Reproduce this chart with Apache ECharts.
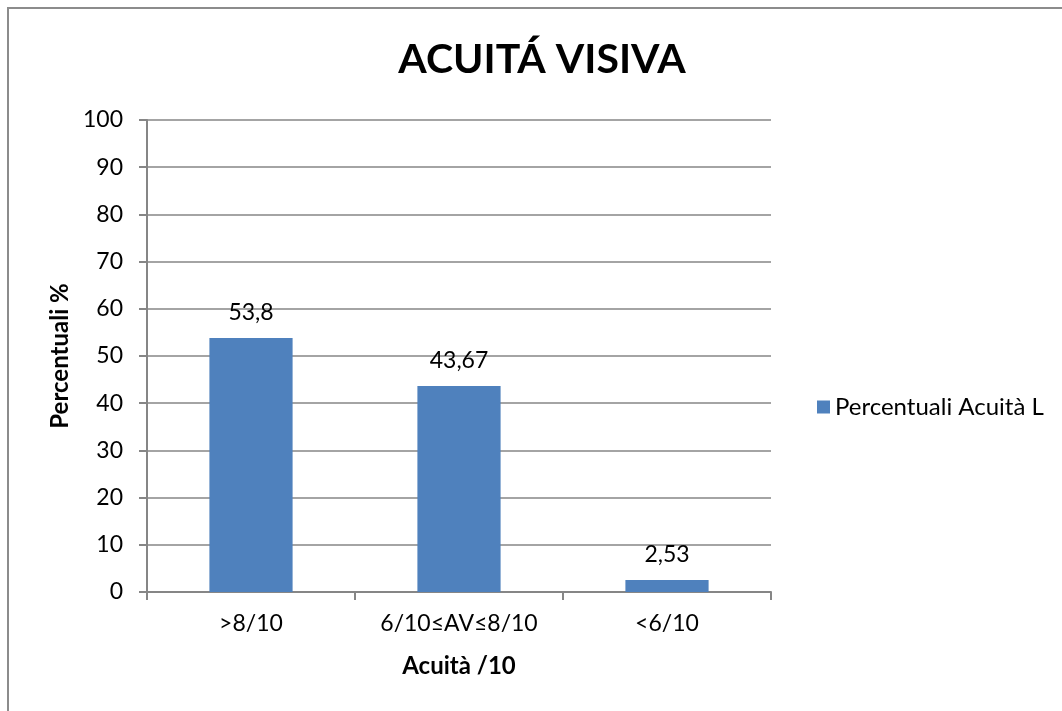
<!DOCTYPE html>
<html>
<head>
<meta charset="utf-8">
<script src="https://cdn.jsdelivr.net/npm/echarts@6/dist/echarts.min.js"></script>
<style>
  html, body { margin: 0; padding: 0; background: #fff; }
  #chart { width: 1062px; height: 711px; }
</style>
</head>
<body>
<div id="chart"></div>
<script>
// Visual acuity distribution (percent of subjects per class)
const categories = ['>8/10', '6/10≤AV≤8/10', '<6/10'];
const percentValues = [53.8, 43.67, 2.53];
const valueLabels = ['53,8', '43,67', '2,53'];
const seriesName = 'Percentuali Acuità L';

const FONT = 'Lato, "Open Sans", sans-serif';
const chart = echarts.init(document.getElementById('chart'));

chart.setOption({
  backgroundColor: '#ffffff',
  animation: false,
  textStyle: { fontFamily: FONT },
  graphic: [{
    type: 'rect',
    shape: { x: 8, y: 8, width: 1080, height: 720 },
    style: { fill: 'none', stroke: '#8c8c8c', lineWidth: 2 },
    silent: true
  }],
  title: {
    text: 'ACUITÁ VISIVA',
    left: 537,
    top: 34,
    textAlign: 'center',
    textStyle: { fontFamily: FONT, fontSize: 41, fontWeight: 'bold', color: '#000' }
  },
  legend: {
    data: [seriesName],
    left: 812,
    top: 390,
    orient: 'vertical',
    icon: 'rect',
    itemWidth: 13,
    itemHeight: 13,
    itemGap: 10,
    textStyle: { fontFamily: FONT, fontSize: 24, color: '#000' }
  },
  grid: { left: 147, top: 120, width: 624, height: 472, containLabel: false },
  xAxis: {
    type: 'category',
    data: categories,
    boundaryGap: true,
    name: 'Acuità /10',
    nameLocation: 'middle',
    nameGap: 62,
    nameTextStyle: { fontFamily: FONT, fontSize: 24, fontWeight: 'bold', color: '#000' },
    axisLine: { lineStyle: { color: '#868686', width: 2 } },
    axisTick: { show: true, length: 8, lineStyle: { color: '#868686', width: 2 } },
    axisLabel: { fontFamily: FONT, fontSize: 23, color: '#000', margin: 20 }
  },
  yAxis: {
    type: 'value',
    min: 0,
    max: 100,
    interval: 10,
    name: 'Percentuali %',
    nameLocation: 'middle',
    nameGap: 75,
    nameRotate: 90,
    nameTextStyle: { fontFamily: FONT, fontSize: 24, fontWeight: 'bold', color: '#000' },
    axisLine: { show: true, lineStyle: { color: '#868686', width: 2 } },
    axisTick: { show: true, length: 8, lineStyle: { color: '#868686', width: 2 } },
    axisLabel: { fontFamily: FONT, fontSize: 23, color: '#000', margin: 24 },
    splitLine: { show: true, lineStyle: { color: '#868686', width: 1.5 } }
  },
  series: [{
    name: seriesName,
    type: 'bar',
    data: percentValues,
    barWidth: '40%',
    itemStyle: { color: '#4F81BD' },
    label: {
      show: true,
      position: 'top',
      distance: 14,
      fontFamily: FONT,
      fontSize: 23,
      color: '#000',
      formatter: p => valueLabels[p.dataIndex]
    }
  }]
});
</script>
</body>
</html>
